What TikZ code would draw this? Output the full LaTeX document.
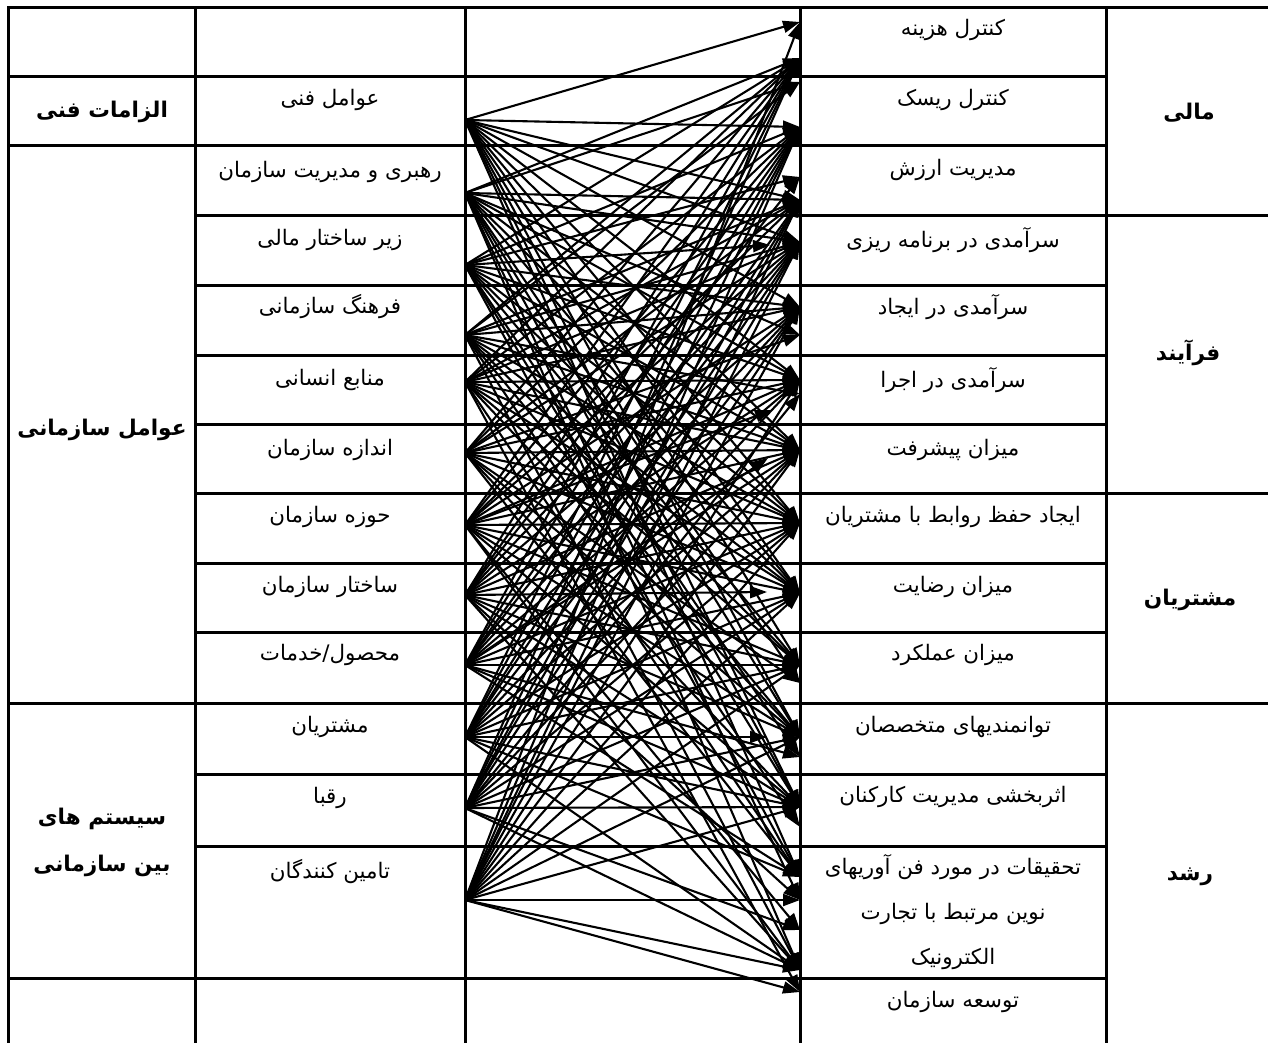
\documentclass[tikz,border=0pt]{standalone}
\usepackage{fontspec}
\newfontfamily\fa[Script=Arabic]{DejaVu Sans}
\TeXXeTstate=1
\usetikzlibrary{arrows.meta}

\newcommand{\fatxt}[1]{\beginR #1\endR}

\tikzset{
  rahmen/.style={line width=1.5pt},
  pfeil/.style={->, line width=1.05pt},
  eintrag/.style={font=\fa\fontsize{10.7}{22.5}\selectfont, inner sep=0pt},
  kategorie/.style={font=\fa\bfseries\fontsize{10.8}{23.5}\selectfont, align=center, inner sep=0pt}
}

\begin{document}
\begin{tikzpicture}[x=0.5pt, y=-0.5pt, >={Triangle[length=8.5pt,width=6pt]}]
        \useasboundingbox (0,0) rectangle (1268,1043);
        % Tabellenlinien
        \draw[rahmen] (8,1043) -- (8,8) -- (1268,8);
        \foreach \x in {195,465,800,1106}
        \draw[rahmen] (\x,8) -- (\x,1043);
        \foreach \y in {77,146,978}
        \draw[rahmen] (8,\y) -- (1106,\y);
        \foreach \y in {285,355,424,563,632,774,846}
        \draw[rahmen] (195,\y) -- (1106,\y);
        \foreach \y in {216,493}
        \draw[rahmen] (195,\y) -- (1268,\y);
        \draw[rahmen] (8,703) -- (1268,703);

        % Kategorien
        \node[kategorie] (k1) at (102,112) {\fatxt{الزامات فنی}};
        \node[kategorie] (k2) at (102,430) {\fatxt{عوامل سازمانی}};
        \node[kategorie] (k3) at (102,842) {\fatxt{سیستم های}\\\fatxt{بین سازمانی}};
        \node[kategorie] (k4) at (1189,113) {\fatxt{مالی}};
        \node[kategorie] (k5) at (1188,353) {\fatxt{فرآیند}};
        \node[kategorie] (k6) at (1190,600) {\fatxt{مشتریان}};
        \node[kategorie] (k7) at (1190,877) {\fatxt{رشد}};

        % Faktoren links
        \foreach \n/\y/\txt in {1/100/عوامل فنی, 2/172/رهبری و مدیریت سازمان,
            3/240/زیر ساختار مالی, 4/307/فرهنگ سازمانی, 5/380/منابع انسانی,
            6/450/اندازه سازمان, 7/517/حوزه سازمان, 8/587/ساختار سازمان,
            9/655/{محصول/خدمات}, 10/727/مشتریان, 11/798/رقبا, 12/872/تامین کنندگان}
        \node[eintrag] (a\n) at (330,\y) {\fatxt{\txt}};

        % Ziele rechts
        \foreach \n/\y/\txt in {1/30/کنترل هزینه, 2/100/کنترل ریسک, 3/170/مدیریت ارزش,
            4/240/سرآمدی در برنامه ریزی, 5/307/سرآمدی در ایجاد, 6/380/سرآمدی در اجرا,
            7/450/میزان پیشرفت, 8/517/ایجاد حفظ روابط با مشتریان, 9/587/میزان رضایت,
            10/655/میزان عملکرد, 11/727/توانمندیهای متخصصان,
            12/797/اثربخشی مدیریت کارکنان, 14/1002/توسعه سازمان}
        \node[eintrag] (b\n) at (953,\y) {\fatxt{\txt}};
        \node[eintrag, align=center] (b13) at (953,912)
            {\fatxt{تحقیقات در مورد فن آوریهای}\\\fatxt{نوین مرتبط با تجارت}\\\fatxt{الکترونیک}};

        % Anfangs- und Endpunkte
        \foreach \n/\y in {1/120,2/193,3/265,4/335,5/382,6/453,7/525,8/595,
            9/665,10/737,11/808,12/900}
        \coordinate (s\n) at (465,\y);
        \foreach \n/\y in {1/58,1b/22,2/127,2b/82,3/200,3b/177,4/242,5/307,5b/335,
            6/380,6b/394,7/450,8/523,9/593,10/665,10b/683,11/737,11b/757,
            12/807,12b/827,13/877,13b/900,13c/930,14/970,14b/992}
        \coordinate (t\n) at (800,\y);
        \foreach \n/\x/\y in {1/770/245,2/772/410,3/768/458,4/767/592,5/767/737}
        \coordinate (u\n) at (\x,\y);

        % Pfeile
        \foreach \s/\ziele in {
            1/{t1b,t2,t3,t4,t5,t6,t7,t8,t9,t10,t11,t12,t13},
            2/{t1,t2b,t3,t4,t5b,t6,t7,t8,t9,t10b,t11,t12,t13b,t14},
            3/{t1,t2,t3b,u1,t5,t6,t7,t8,t9,t10,t11b,t12,t13},
            4/{t1,t2b,t3,t4,t5,t6b,t7,t8,t9,t10,t11,t12b,t14},
            5/{t1,t2,t3,t4,t5,t6,t7,t8,t9,t10,t11,t13,t14b},
            6/{t1,t2,t3,t4,t5b,t6,t7,t8,t9,t10b,t11,t12,t13},
            7/{t1,t2,t3,t4,u2,t5,t6,t7,t8,t9,t10,t11,t12,t13c,t14},
            8/{t1,t2,t3b,t4,t5,t6,t7,t8,u4,t10,t11,t12,t13b,t14},
            9/{t1,t2,t3,t4,t5,t6,u3,t7,t8,t9,t10,t11b,t12,t13},
            10/{t1,t2,t3,t4,t5,t6,t7,t8,t9,t10,u5,t12,t13,t14},
            11/{t1,t2,t3,t4,t5,t6b,t7,t8,t9,t10,t11,t12,t13c,t14},
            12/{t1b,t2,t3,t4,t5,t6,t7,t8,t9,t10,t11,t12,t13b,t14,t14b}}
        \foreach \z in \ziele
        \draw[pfeil] (s\s) -- (\z);
    \end{tikzpicture}
\end{document}
